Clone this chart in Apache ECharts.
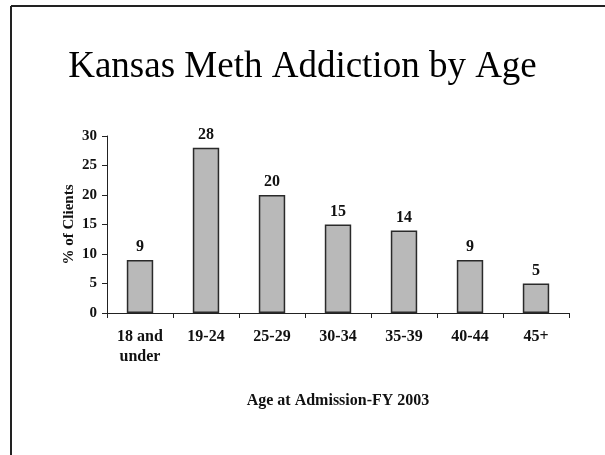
<!DOCTYPE html>
<html>
<head>
<meta charset="utf-8">
<script src="https://cdn.jsdelivr.net/npm/echarts@6/dist/echarts.min.js"></script>
<style>
  html, body { margin: 0; padding: 0; background: #fff; }
  #chart { width: 605px; height: 455px; }
</style>
</head>
<body>
<div id="chart"></div>
<script>
// Age groups at admission and share of clients in each
const categories = ['18 and\nunder', '19-24', '25-29', '30-34', '35-39', '40-44', '45+'];
const percentClients = [9, 28, 20, 15, 14, 9, 5];
const yTicks = [0, 5, 10, 15, 20, 25, 30];

const serif = '"Liberation Serif", "DejaVu Serif", serif';
const chart = echarts.init(document.getElementById('chart'), null, { renderer: 'canvas' });

chart.setOption({
  backgroundColor: '#ffffff',
  animation: false,
  title: {
    text: 'Kansas Meth Addiction by Age',
    left: 'center',
    top: 44,
    textStyle: { fontFamily: serif, fontSize: 37, fontWeight: 'normal', color: '#000' }
  },
  graphic: [
    // slide frame: top and left edges
    { type: 'line', shape: { x1: 11, y1: 6, x2: 605, y2: 6 }, style: { stroke: '#222', lineWidth: 2 } },
    { type: 'line', shape: { x1: 11, y1: 6, x2: 11, y2: 455 }, style: { stroke: '#222', lineWidth: 2 } }
  ],
  grid: { left: 107, right: 36, top: 136, bottom: 142 },
  xAxis: {
    type: 'category',
    data: categories,
    name: 'Age at Admission-FY 2003',
    nameLocation: 'middle',
    nameGap: 80,
    nameMoveOverlap: false,
    nameTextStyle: { fontFamily: serif, fontSize: 16, fontWeight: 'bold', color: '#111' },
    axisLine: { lineStyle: { color: '#222', width: 1 } },
    axisTick: { show: true, alignWithLabel: false, length: 5, lineStyle: { color: '#222' } },
    axisLabel: {
      interval: 0, margin: 14, fontFamily: serif, fontSize: 16, fontWeight: 'bold',
      color: '#111', lineHeight: 20
    }
  },
  yAxis: {
    type: 'value',
    min: 0, max: 30, interval: 5,
    name: '% of Clients',
    nameLocation: 'middle',
    nameGap: 30,
    nameMoveOverlap: false,
    nameTextStyle: { fontFamily: serif, fontSize: 15, fontWeight: 'bold', color: '#111' },
    splitLine: { show: false },
    axisLine: { show: true, lineStyle: { color: '#222', width: 1 } },
    axisTick: { show: true, length: 5, lineStyle: { color: '#222' } },
    axisLabel: {
      margin: 10, fontFamily: serif, fontSize: 15, fontWeight: 'bold', color: '#111',
      formatter: v => (yTicks.includes(v) ? String(v) : '')
    }
  },
  series: [{
    type: 'bar',
    data: percentClients,
    barWidth: '40%',
    itemStyle: { color: '#b9b9b9', borderColor: '#2a2a2a', borderWidth: 1.5 },
    label: {
      show: true, position: 'top', distance: 5,
      fontFamily: serif, fontSize: 16, fontWeight: 'bold', color: '#111'
    }
  }]
});
</script>
</body>
</html>
